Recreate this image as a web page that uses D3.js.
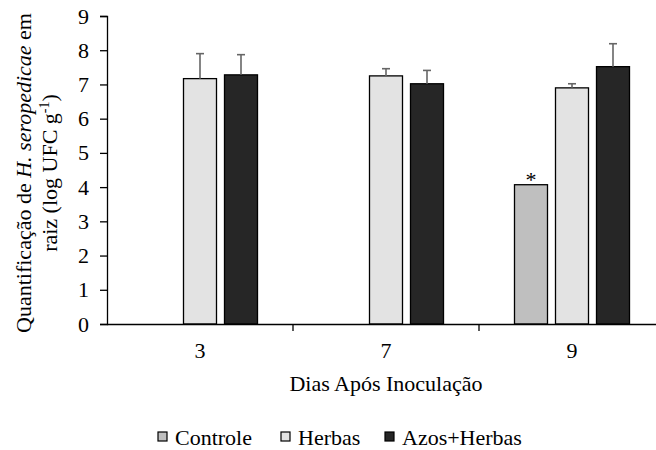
<!DOCTYPE html>
<html><head><meta charset="utf-8">
<script src="https://cdn.jsdelivr.net/npm/d3@7"></script>
<style>body{margin:0;background:#fff}svg{display:block}svg text{font-family:"Liberation Serif" !important}</style>
</head><body><svg id="c" width="656" height="450" font-family="Liberation Serif"></svg>
<script>
const categories = ["3", "7", "9"];
const seriesNames = ["Controle", "Herbas", "Azos+Herbas"];
const controleVals = [null, null, 4.07];
const herbasVals = [7.17, 7.25, 6.90];
const azosVals = [7.28, 7.02, 7.52];
const controleErr = [null, null, 0];
const herbasErr = [0.73, 0.21, 0.12];
const azosErr = [0.59, 0.39, 0.67];
const controleMarks = [null, null, "*"];
const yTicks = [0,1,2,3,4,5,6,7,8,9];
const colors = ["#bfbfbf", "#e3e3e3", "#262626"];

const values = [controleVals, herbasVals, azosVals];
const errs = [controleErr, herbasErr, azosErr];
const marks = [controleMarks, [null,null,null], [null,null,null]];
const FS = "22px";

const svg = d3.select("#c");
const x0 = d3.scaleBand().domain(categories).range([107, 665]).padding(0);
const p = 8/41;
const outer = (x0.bandwidth()/41 - (3 - p)) / 2;
const x1 = d3.scaleBand().domain(seriesNames).range([0, x0.bandwidth()]).paddingInner(p).paddingOuter(outer);
const y = d3.scaleLinear().domain([0, 9]).range([324, 16]);

function txt(sel) { return sel.attr("font-family", "Liberation Serif").style("font-size", FS).attr("fill", "#000"); }

// y axis
const ya = svg.append("g").attr("transform", "translate(107,0)")
  .call(d3.axisLeft(y).tickValues(yTicks).tickSize(7).tickPadding(11).tickFormat(d3.format("d")));
ya.attr("font-family", "Liberation Serif").attr("font-size", null);
ya.select(".domain").attr("stroke", "#000").attr("stroke-width", 1.3);
ya.selectAll(".tick line").attr("stroke", "#000").attr("stroke-width", 1.3);
txt(ya.selectAll(".tick text"));

// bars
const data = [];
categories.forEach((c, i) => seriesNames.forEach((s, j) => {
  if (values[j][i] != null) data.push({c, s, j, v: values[j][i], e: errs[j][i], m: marks[j][i]});
}));
svg.append("g").selectAll("rect").data(data).join("rect")
  .attr("x", d => x0(d.c) + x1(d.s)).attr("width", x1.bandwidth())
  .attr("y", d => y(d.v)).attr("height", d => y(0) - y(d.v))
  .attr("fill", d => colors[d.j]).attr("stroke", "#000").attr("stroke-width", 1.3);

// error bars
const eg = svg.append("g").attr("stroke", "#666").attr("stroke-width", 1.6);
data.filter(d => d.e).forEach(d => {
  const cx = x0(d.c) + x1(d.s) + x1.bandwidth()/2;
  eg.append("line").attr("x1", cx).attr("x2", cx).attr("y1", y(d.v)).attr("y2", y(d.v + d.e));
  eg.append("line").attr("x1", cx - 4).attr("x2", cx + 4).attr("y1", y(d.v + d.e)).attr("y2", y(d.v + d.e));
});
// significance marks
data.filter(d => d.m).forEach(d => {
  txt(svg.append("text")).attr("x", x0(d.c) + x1(d.s) + x1.bandwidth()/2).attr("y", y(d.v) + 2)
    .attr("text-anchor", "middle").text(d.m);
});

// x axis
svg.append("line").attr("x1", 107).attr("x2", 656).attr("y1", 324.5).attr("y2", 324.5).attr("stroke", "#000").attr("stroke-width", 1.3);
categories.forEach((c, i) => {
  if (i > 0) svg.append("line").attr("x1", x0(c)).attr("x2", x0(c)).attr("y1", 324).attr("y2", 331).attr("stroke", "#000").attr("stroke-width", 1.3);
  txt(svg.append("text")).attr("x", x0(c) + x0.bandwidth()/2).attr("y", 358).attr("text-anchor", "middle").text(c);
});
txt(svg.append("text")).attr("x", 386).attr("y", 391).attr("text-anchor", "middle").text("Dias Após Inoculação");

// y title
const yt = svg.append("g").attr("transform", "translate(0,173) rotate(-90)");
const t1 = txt(yt.append("text")).attr("x", 0).attr("y", 31).attr("text-anchor", "middle");
t1.append("tspan").text("Quantificação de ");
t1.append("tspan").style("font-style", "italic").text("H. seropedicae");
t1.append("tspan").text(" em");
const t2 = txt(yt.append("text")).attr("x", 0).attr("y", 57).attr("text-anchor", "middle");
t2.append("tspan").text("raiz (log UFC g");
t2.append("tspan").attr("dy", -8).style("font-size", "14px").text("-1");
t2.append("tspan").attr("dy", 8).text(")");

// legend
const legX = [158, 281, 385];
seriesNames.forEach((s, j) => {
  svg.append("rect").attr("x", legX[j]).attr("y", 432).attr("width", 9).attr("height", 9)
    .attr("fill", colors[j]).attr("stroke", "#000").attr("stroke-width", 1.2);
  txt(svg.append("text")).attr("x", legX[j] + 17).attr("y", 445).text(s);
});
</script></body></html>
